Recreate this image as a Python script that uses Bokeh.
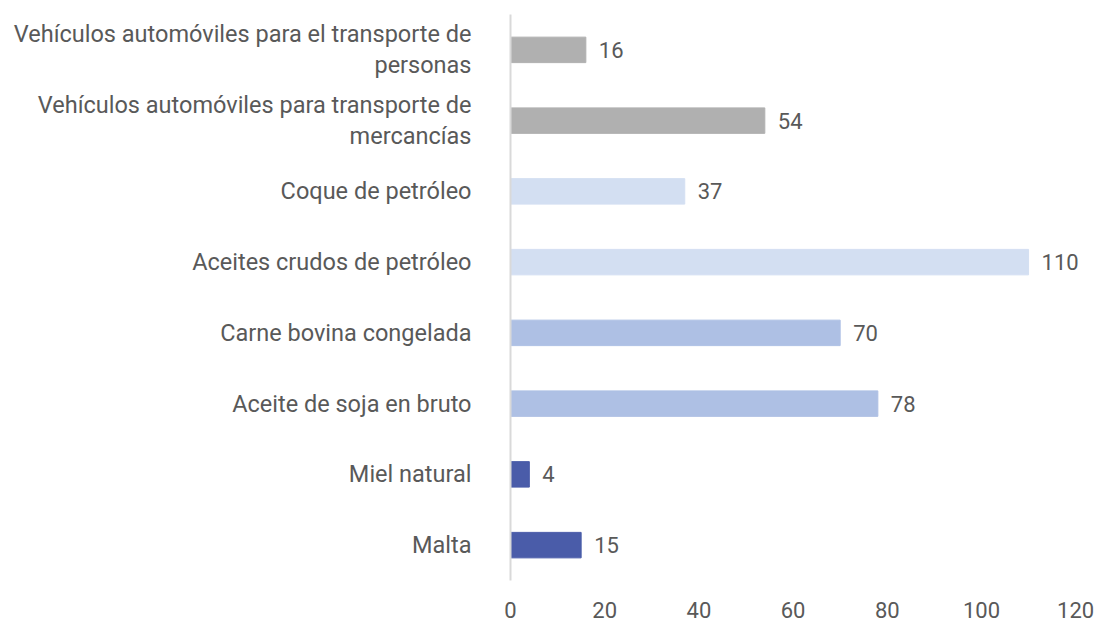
from bokeh.plotting import figure
from bokeh.models import ColumnDataSource, FactorRange, FixedTicker
from bokeh.core.properties import value
from bokeh.embed import file_html
from bokeh.resources import INLINE

categories = [
    "Vehículos automóviles para el transporte de\npersonas",
    "Vehículos automóviles para transporte de\nmercancías",
    "Coque de petróleo",
    "Aceites crudos de petróleo",
    "Carne bovina congelada",
    "Aceite de soja en bruto",
    "Miel natural",
    "Malta",
]
values = [16, 54, 37, 110, 70, 78, 4, 15]
colors = ["#B0B0B0", "#B0B0B0", "#D3DFF2", "#D3DFF2", "#AEC0E4", "#AEC0E4", "#4A5CA9", "#4A5CA9"]
x_ticks = [0, 20, 40, 60, 80, 100, 120]

FONT = "Roboto"
FS = "23.5px"
NFS = "22px"
TXT = "#595959"

src = ColumnDataSource(dict(cat=categories, val=values, color=colors,
                            lab=[str(v) for v in values]))

p = figure(width=1095, height=623, output_backend="svg", toolbar_location=None,
           y_range=FactorRange(*categories[::-1], range_padding=0),
           x_range=(0, 124), min_border_left=510, min_border_right=1,
           min_border_top=14, min_border_bottom=43, outline_line_color=None)

p.hbar(y="cat", right="val", left=0, height=0.36, color="color", source=src)
p.text(x="val", y="cat", text="lab", source=src, x_offset=13,
       text_align="left", text_baseline="middle", text_font_size=NFS,
       text_color=TXT, text_font=value(FONT))

p.xgrid.visible = False
p.ygrid.visible = False

p.xaxis.ticker = FixedTicker(ticks=x_ticks)
p.xaxis.axis_line_color = None
p.xaxis.major_tick_line_color = None
p.xaxis.minor_tick_line_color = None
p.xaxis.major_label_standoff = 15
p.xaxis.major_label_text_font_size = NFS
p.xaxis.major_label_text_color = TXT
p.xaxis.major_label_text_font = FONT

p.yaxis.axis_line_color = "#D9D9D9"
p.yaxis.axis_line_width = 2
p.yaxis.major_tick_line_color = None
p.yaxis.minor_tick_line_color = None
p.yaxis.major_label_standoff = 33
p.yaxis.major_label_text_font_size = FS
p.yaxis.major_label_text_line_height = 1.1
p.yaxis.major_label_text_color = TXT
p.yaxis.major_label_text_font = FONT

open("out.html", "w").write(file_html(p, INLINE))
